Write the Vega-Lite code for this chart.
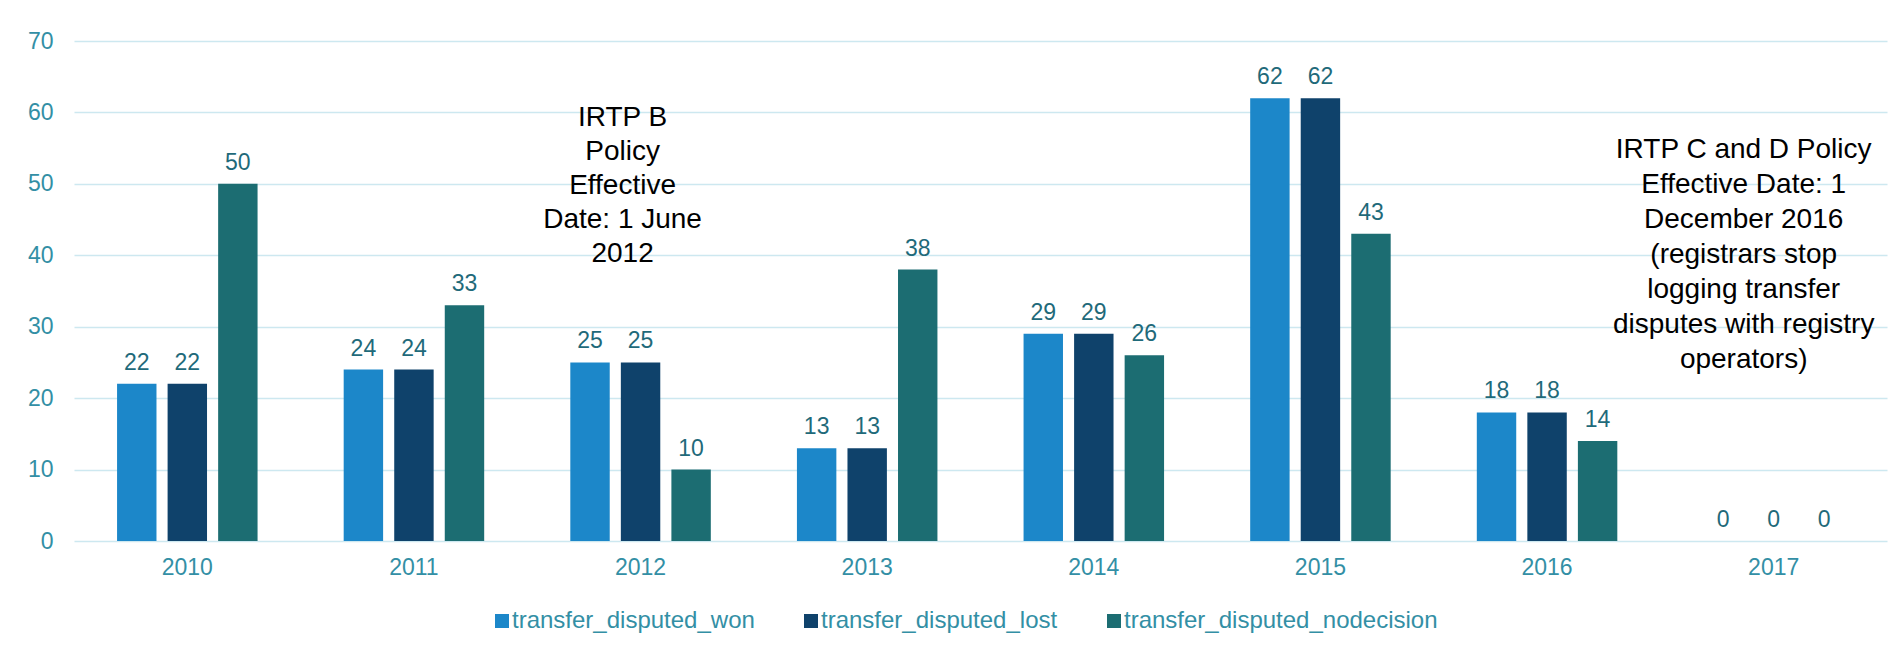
{
  "$schema": "https://vega.github.io/schema/vega-lite/v6.json",
  "width": 1813,
  "height": 500,
  "autosize": {"type": "none"},
  "padding": {"left": 74, "top": 41, "right": 9, "bottom": 111},
  "background": "white",
  "config": {"view": {"stroke": null}, "font": "Liberation Sans"},
  "datasets": {
    "bars": [
      {"year": "2010", "series": "transfer_disputed_won", "value": 22},
      {"year": "2010", "series": "transfer_disputed_lost", "value": 22},
      {"year": "2010", "series": "transfer_disputed_nodecision", "value": 50},
      {"year": "2011", "series": "transfer_disputed_won", "value": 24},
      {"year": "2011", "series": "transfer_disputed_lost", "value": 24},
      {"year": "2011", "series": "transfer_disputed_nodecision", "value": 33},
      {"year": "2012", "series": "transfer_disputed_won", "value": 25},
      {"year": "2012", "series": "transfer_disputed_lost", "value": 25},
      {"year": "2012", "series": "transfer_disputed_nodecision", "value": 10},
      {"year": "2013", "series": "transfer_disputed_won", "value": 13},
      {"year": "2013", "series": "transfer_disputed_lost", "value": 13},
      {"year": "2013", "series": "transfer_disputed_nodecision", "value": 38},
      {"year": "2014", "series": "transfer_disputed_won", "value": 29},
      {"year": "2014", "series": "transfer_disputed_lost", "value": 29},
      {"year": "2014", "series": "transfer_disputed_nodecision", "value": 26},
      {"year": "2015", "series": "transfer_disputed_won", "value": 62},
      {"year": "2015", "series": "transfer_disputed_lost", "value": 62},
      {"year": "2015", "series": "transfer_disputed_nodecision", "value": 43},
      {"year": "2016", "series": "transfer_disputed_won", "value": 18},
      {"year": "2016", "series": "transfer_disputed_lost", "value": 18},
      {"year": "2016", "series": "transfer_disputed_nodecision", "value": 14},
      {"year": "2017", "series": "transfer_disputed_won", "value": 0},
      {"year": "2017", "series": "transfer_disputed_lost", "value": 0},
      {"year": "2017", "series": "transfer_disputed_nodecision", "value": 0}
    ],
    "noteB": [
      {"year": "2012", "pos": 59.2, "label": "IRTP B\nPolicy\nEffective\nDate: 1 June\n2012"}
    ],
    "noteCD": [
      {"year": "2017", "pos": 54.7, "label": "IRTP C and D Policy\nEffective Date: 1\nDecember 2016\n(registrars stop\nlogging transfer\ndisputes with registry\noperators)"}
    ]
  },
  "layer": [
    {
      "data": {"name": "bars"},
      "mark": {"type": "bar"},
      "encoding": {
        "x": {
          "field": "year", "type": "nominal",
          "scale": {"paddingInner": 0.38, "paddingOuter": 0.19},
          "axis": {"title": null, "labelAngle": 0, "labelFontSize": 23, "labelColor": "#338fa5", "labelPadding": 15, "ticks": false, "domain": false}
        },
        "xOffset": {
          "field": "series", "type": "nominal",
          "sort": ["transfer_disputed_won", "transfer_disputed_lost", "transfer_disputed_nodecision"],
          "scale": {"paddingInner": 0.22, "paddingOuter": 0}
        },
        "y": {
          "field": "value", "type": "quantitative",
          "scale": {"domain": [0, 70], "nice": false},
          "axis": {"title": null, "values": [0, 10, 20, 30, 40, 50, 60, 70], "labelFontSize": 23, "labelColor": "#338fa5", "labelPadding": 21, "ticks": false, "domain": false, "gridColor": "#cde8f0", "gridWidth": 1.5}
        },
        "color": {
          "field": "series", "type": "nominal",
          "sort": ["transfer_disputed_won", "transfer_disputed_lost", "transfer_disputed_nodecision"],
          "scale": {"domain": ["transfer_disputed_won", "transfer_disputed_lost", "transfer_disputed_nodecision"], "range": ["#1c87c9", "#0f426b", "#1c6d72"]},
          "legend": {
            "title": null, "orient": "none", "direction": "horizontal", "legendX": 416, "legendY": 568,
            "symbolType": "square", "symbolSize": 196, "symbolStrokeWidth": 0,
            "labelFontSize": 24, "labelLimit": 500, "labelColor": "#338fa5", "labelOffset": -2, "columnPadding": 44
          }
        }
      }
    },
    {
      "data": {"name": "bars"},
      "mark": {"type": "text", "baseline": "alphabetic", "dy": -14, "fontSize": 23, "color": "#1f6a7a"},
      "encoding": {
        "x": {"field": "year", "type": "nominal"},
        "xOffset": {"field": "series", "type": "nominal", "sort": ["transfer_disputed_won", "transfer_disputed_lost", "transfer_disputed_nodecision"]},
        "y": {"field": "value", "type": "quantitative"},
        "text": {"field": "value", "type": "quantitative"}
      }
    },
    {
      "data": {"name": "noteB"},
      "mark": {"type": "text", "fontSize": 28, "lineHeight": 34, "lineBreak": "\n", "align": "center", "baseline": "middle", "color": "black", "dx": -18},
      "encoding": {
        "x": {"field": "year", "type": "nominal"},
        "y": {"field": "pos", "type": "quantitative"},
        "text": {"field": "label"}
      }
    },
    {
      "data": {"name": "noteCD"},
      "mark": {"type": "text", "fontSize": 28, "lineHeight": 35, "lineBreak": "\n", "align": "center", "baseline": "middle", "color": "black", "dx": -30},
      "encoding": {
        "x": {"field": "year", "type": "nominal"},
        "y": {"field": "pos", "type": "quantitative"},
        "text": {"field": "label"}
      }
    }
  ]
}
